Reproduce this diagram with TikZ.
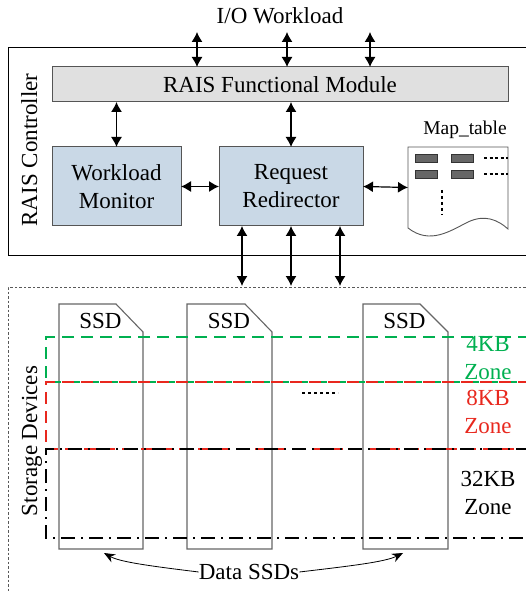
\documentclass[tikz,border=0pt]{standalone}
\usepackage{fontspec}
\setmainfont{Liberation Serif}
\usetikzlibrary{arrows.meta,calc}
\definecolor{boxblue}{HTML}{C9D8E6}
\definecolor{boxgray}{HTML}{E0E0E0}
\definecolor{edgegray}{HTML}{555555}
\definecolor{zgreen}{HTML}{00B050}
\definecolor{zred}{HTML}{E8281E}
\begin{document}
\begin{tikzpicture}[x=1pt,y=-1pt,
  every node/.style={font=\fontsize{23}{28}\selectfont},
  box/.style={draw=edgegray,line width=1pt,inner sep=0pt,outer sep=0pt,align=center},
  dar/.style={{Latex[length=10pt,width=11pt]}-{Latex[length=10pt,width=11pt]},line width=1.2pt},
  ssd/.style={draw=black!60,line width=1.1pt},
  zg/.style={draw=zgreen,line width=2pt,dash pattern=on 12pt off 7pt},
  zr/.style={draw=zred,line width=2pt,dash pattern=on 12pt off 7pt},
  zb/.style={draw=black,line width=2pt,dash pattern=on 14pt off 6pt on 2pt off 6pt},
  lbl/.style={inner sep=0pt}]
\useasboundingbox (0,0) rectangle (525,593);
% controller frame
\draw[line width=0.9pt] (530,47) -- (8,47) -- (8,255) -- (530,255);
% storage frame
\draw[gray!70!black,line width=0.8pt,dash pattern=on 2.5pt off 2pt] (530,287) -- (8,287) -- (8,600);
% top label
\node[lbl] (io) at (280,16) {I/O Workload};
\node[lbl,rotate=90,anchor=base] (ctl) at (37,150) {RAIS Controller};
\node[lbl,rotate=90,anchor=base] (sto) at (37,441) {Storage Devices};
% boxes
\node[box,fill=boxgray,minimum width=456pt,minimum height=35pt] (mod) at (280,84.5) {RAIS Functional Module};
\node[box,fill=boxblue,minimum width=129pt,minimum height=79pt] (wm) at (116.5,186.5) {Workload\\Monitor};
\node[box,fill=boxblue,minimum width=144pt,minimum height=79pt] (rr) at (291,186.5) {Request\\Redirector};
% map table
\node[lbl,font=\fontsize{19.5}{22}\selectfont] (mtl) at (465,130) {Map\_table};
\node[minimum width=100pt,minimum height=81pt,inner sep=0pt,outer sep=0pt] (mt) at (458,187.5) {};
\draw[edgegray,line width=0.9pt,fill=white] (408,228) -- (408,147) -- (508,147) -- (508,229)
  .. controls (498,220) and (485,214) .. (468,222)
  .. controls (450,231) and (430,245) .. (408,228) -- cycle;
\foreach \xa/\ya in {415/154,451/154,415/170,451/170}
  \draw[fill=black!60,draw=black!80,line width=0.6pt] (\xa,\ya) rectangle ++(22,8);
\draw[line width=1.3pt,dash pattern=on 3pt off 2.5pt] (484,158) -- (508,158);
\draw[line width=1.3pt,dash pattern=on 3pt off 2.5pt] (484,174) -- (508,174);
\draw[line width=1.5pt,dash pattern=on 3pt off 3pt] (442,190) -- (442,215);
% top arrows
\coordinate (t1) at (197,32);
\coordinate (t2) at (287,32);
\coordinate (t3) at (370,32);
\foreach \c in {t1,t2,t3} \draw[dar] (\c) -- (\c |- mod.north);
\draw[dar] (mod.south -| wm.north) -- (wm.north);
\draw[dar] (mod.south -| rr.north) -- (rr.north);
\draw[dar] (wm.east) -- (rr.west);
\draw[dar] (rr.east) -- (mt.west);
% bottom arrows
\coordinate (b1) at (242,286);
\coordinate (b2) at (291,286);
\coordinate (b3) at (340,286);
\foreach \c in {b1,b2,b3} \draw[dar] (\c |- rr.south) -- (\c);
% SSDs
\foreach \n/\xl/\xc/\xr in {s1/59/116/143, s2/187/245/272, s3/363/420/448}{
  \draw[ssd] (\xl,549) -- (\xl,304) -- (\xc,304) -- (\xr,332) -- (\xr,549) -- cycle;
  \node[lbl] (\n) at ({(\xl+\xc)/2+13},321) {SSD};
}
% zones
\draw[zg] (530,337) -- (46,337) -- (46,382) -- (530,382);
\draw[zr] (530,382) -- (46,382) -- (46,449) -- (530,449);
\draw[zb] (530,449) -- (46,449) -- (46,538) -- (530,538);
\node[lbl,text=zgreen,align=center] (z4) at (488,358) {4KB\\Zone};
\node[lbl,text=zred,align=center] (z8) at (488,412) {8KB\\Zone};
\node[lbl,align=center] (z32) at (488,493) {32KB\\Zone};
\draw[line width=1.5pt,dash pattern=on 3pt off 3pt] (302,393) -- (338,393);
% Data SSDs
\node[lbl] (ds) at (249,572) {Data SSDs};
\coordinate (d1) at (104,553);
\coordinate (d3) at (403,553);
\draw[-{Stealth[length=11pt,width=9pt]},line width=0.8pt] (ds.west) .. controls (150,566) and (120,562) .. (d1);
\draw[-{Stealth[length=11pt,width=9pt]},line width=0.8pt] (ds.east) .. controls (350,566) and (385,562) .. (d3);
\end{tikzpicture}
\end{document}
